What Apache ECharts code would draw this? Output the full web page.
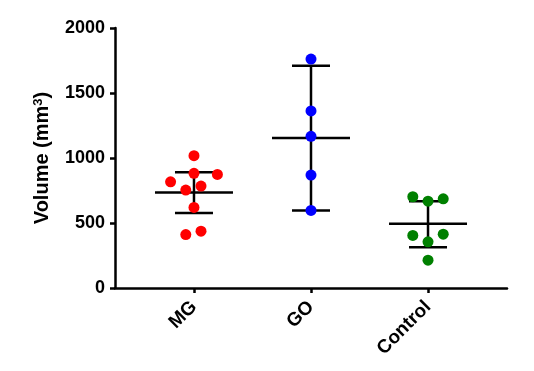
<!DOCTYPE html>
<html>
<head>
<meta charset="utf-8">
<script src="https://cdn.jsdelivr.net/npm/echarts@6/dist/echarts.min.js"></script>
<style>
  html,body{margin:0;padding:0;background:#fff;}
  #chart{width:534px;height:371px;}
</style>
</head>
<body>
<div id="chart"></div>
<script>
// groups along x
var groups=["MG","GO","Control"];
var colors=["#ff0000","#0000ff","#008000"];

// individual points (jitter = horizontal offset in category units)
var mgVals=[1018,882,874,817,784,753,620,437,411];
var mgJitter=[0,0,0.2,-0.2,0.06,-0.07,0,0.06,-0.07];
var goVals=[1761,1362,1167,869,597];
var goJitter=[0,0,0,0,0];
var ctrlVals=[702,668,686,404,414,355,214];
var ctrlJitter=[-0.13,0,0.13,-0.13,0.13,0,0];

// mean and error bar ends
var means=[735,1154,494];
var errLow=[576,597,314];
var errHigh=[890,1709,668];

var fnt="'Liberation Sans', Arial, sans-serif";
var chart=echarts.init(document.getElementById("chart"));

var summary=groups.map((g,i)=>[i+1,means[i],errLow[i],errHigh[i]]);

var option={
  animation:false,
  grid:{left:115,right:27,top:28,bottom:83},
  xAxis:{
    type:'value',
    min:0.325,
    max:3.675,
    splitLine:{show:false},
    axisLine:{lineStyle:{color:'#000',width:2.5}},
    axisTick:{show:true,length:5,lineStyle:{color:'#000',width:2.5},customValues:[1,2,3]},
    axisLabel:{
      customValues:[1,2,3],
      rotate:45,
      margin:16,
      fontFamily:fnt,fontWeight:'bold',fontSize:19,color:'#000',
      formatter:(v)=>groups[Math.round(v)-1]
    }
  },
  yAxis:{
    type:'value',
    min:0,max:2000,interval:500,
    splitLine:{show:false},
    axisLine:{show:true,lineStyle:{color:'#000',width:2.5}},
    axisTick:{show:true,length:5,lineStyle:{color:'#000',width:2.5}},
    axisLabel:{margin:10,fontFamily:fnt,fontWeight:'bold',fontSize:18,color:'#000',
      formatter:(v)=>String(v)},
    name:'Volume (mm{sup|3})',
    nameLocation:'middle',
    nameGap:62,
    nameRotate:90,
    nameTextStyle:{
      fontFamily:fnt,fontWeight:'bold',fontSize:20,color:'#000',
      rich:{sup:{fontFamily:fnt,fontWeight:'bold',fontSize:13,color:'#000',verticalAlign:'top',padding:[0,0,8,0]}}
    }
  },
  series:[
    {
      type:'custom',
      z:1,
      data:summary,
      renderItem:function(params,api){
        var c=api.coord([api.value(0),api.value(1)]);
        var lo=api.coord([api.value(0),api.value(2)]);
        var hi=api.coord([api.value(0),api.value(3)]);
        var st={stroke:'#000',lineWidth:2.5};
        return {type:'group',children:[
          {type:'line',shape:{x1:c[0]-39,y1:c[1],x2:c[0]+39,y2:c[1]},style:st},
          {type:'line',shape:{x1:c[0],y1:hi[1],x2:c[0],y2:lo[1]},style:st},
          {type:'line',shape:{x1:c[0]-19,y1:hi[1],x2:c[0]+19,y2:hi[1]},style:st},
          {type:'line',shape:{x1:c[0]-19,y1:lo[1],x2:c[0]+19,y2:lo[1]},style:st}
        ]};
      }
    },
    {type:'scatter',z:3,symbolSize:11,itemStyle:{color:colors[0],opacity:1},
     data:mgVals.map((v,i)=>[1+mgJitter[i],v])},
    {type:'scatter',z:3,symbolSize:11,itemStyle:{color:colors[1],opacity:1},
     data:goVals.map((v,i)=>[2+goJitter[i],v])},
    {type:'scatter',z:3,symbolSize:11,itemStyle:{color:colors[2],opacity:1},
     data:ctrlVals.map((v,i)=>[3+ctrlJitter[i],v])}
  ]
};
chart.setOption(option);
</script>
</body>
</html>
